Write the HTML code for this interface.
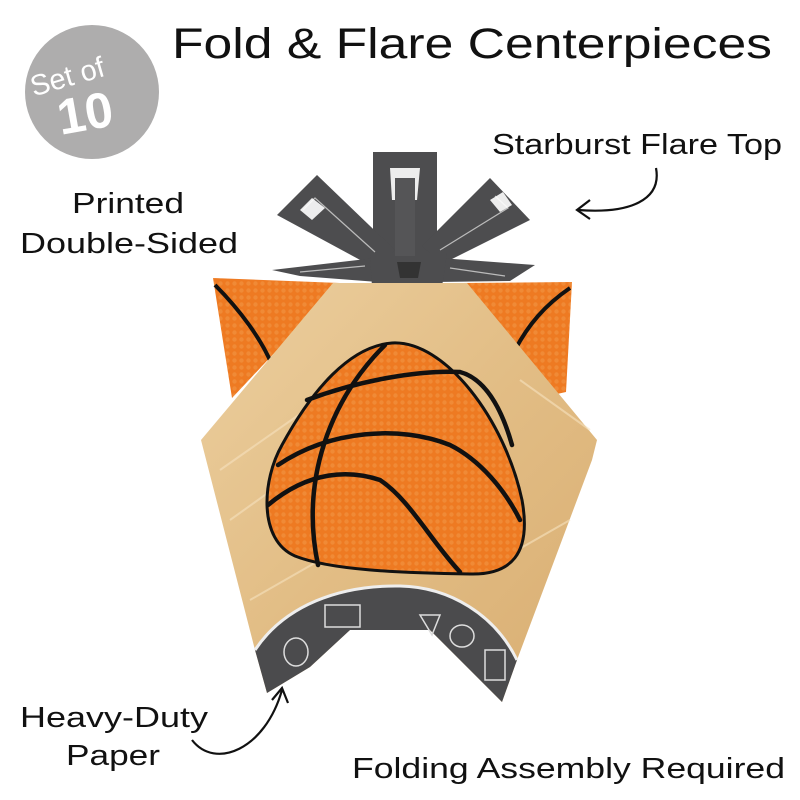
<!DOCTYPE html>
<html><head><meta charset="utf-8"><style>
html,body{margin:0;padding:0;background:#fff;width:800px;height:800px;overflow:hidden}
svg{display:block}
text{font-family:"Liberation Sans",sans-serif;fill:#111}
</style></head><body>
<svg width="800" height="800" viewBox="0 0 800 800" xmlns="http://www.w3.org/2000/svg">
<defs>
<pattern id="dots" width="7" height="7" patternUnits="userSpaceOnUse">
<rect width="7" height="7" fill="#ee7a22"/><circle cx="3.5" cy="3.5" r="2.2" fill="#f08a36"/>
</pattern>
<linearGradient id="wood" x1="0" y1="0" x2="1" y2="1">
<stop offset="0" stop-color="#eccf9f"/><stop offset="0.5" stop-color="#e2bd85"/><stop offset="1" stop-color="#d9ae72"/>
</linearGradient>
</defs>

<!-- badge -->
<circle cx="92" cy="92" r="67" fill="#aeadad"/>
<text x="70" y="86" font-size="29" transform="rotate(-16 70 86)" text-anchor="middle" style="fill:#fff">Set of</text>
<text x="88" y="130" font-size="50" font-weight="bold" transform="rotate(-10 88 130)" text-anchor="middle" style="fill:#fff">10</text>

<!-- title -->
<text x="172" y="58" font-size="43" textLength="600" lengthAdjust="spacingAndGlyphs">Fold &amp; Flare Centerpieces</text>
<text x="492" y="154" font-size="29" textLength="290" lengthAdjust="spacingAndGlyphs">Starburst Flare Top</text>
<text x="128" y="213" font-size="29" text-anchor="middle" textLength="112" lengthAdjust="spacingAndGlyphs">Printed</text>
<text x="20" y="253" font-size="29" textLength="218" lengthAdjust="spacingAndGlyphs">Double-Sided</text>
<text x="20" y="727" font-size="29" textLength="188" lengthAdjust="spacingAndGlyphs">Heavy-Duty</text>
<text x="113" y="765" font-size="29" text-anchor="middle" textLength="94" lengthAdjust="spacingAndGlyphs">Paper</text>
<text x="352" y="778" font-size="29" textLength="433" lengthAdjust="spacingAndGlyphs">Folding Assembly Required</text>

<!-- arrows -->
<path d="M656 168 C662 200 630 214 578 210" fill="none" stroke="#111" stroke-width="2.2"/>
<path d="M590 200 L577 210 L590 219" fill="none" stroke="#111" stroke-width="2.2"/>
<path d="M192 740 C215 770 265 750 282 690" fill="none" stroke="#111" stroke-width="2.2"/>
<path d="M272 700 L282 688 L288 703" fill="none" stroke="#111" stroke-width="2.2"/>

<!-- back orange panels -->
<path d="M213 278 L340 283 L232 398 Z" fill="url(#dots)"/>
<path d="M215 285 C240 310 262 340 272 365" stroke="#111" stroke-width="4" fill="none"/>
<path d="M462 283 L572 282 L566 392 L530 400 Z" fill="url(#dots)"/>
<path d="M570 288 C545 305 528 325 515 350" stroke="#111" stroke-width="4" fill="none"/>

<!-- starburst -->
<g fill="#4d4d4f">
<rect x="373" y="152" width="64" height="105"/>
<path d="M277 215 L317 175 L395 250 L375 268 Z"/>
<path d="M490 178 L530 220 L442 264 L422 246 Z"/>
<path d="M272 270 L375 258 L378 282 L300 276 Z"/>
<path d="M535 265 L440 258 L435 282 L510 281 Z"/>
<path d="M370 253 L447 253 L442 287 L372 287 Z"/>
<rect x="393" y="280" width="34" height="12"/>
</g>
<g fill="none" stroke="#bbb" stroke-width="1.2">
<path d="M303 210 L315 198 L375 252"/>
<path d="M495 196 L508 208 L440 250"/>
<path d="M300 272 L365 266"/>
<path d="M505 276 L450 268"/>
</g>
<g fill="#fff" opacity="0.9">
<path d="M390 168 L420 168 L417 200 L392 200 Z"/>
<path d="M300 210 L312 198 L325 208 L312 220 Z"/>
<path d="M490 200 L503 192 L512 205 L500 212 Z"/>
</g>
<rect x="395" y="178" width="20" height="78" fill="#555557"/>
<path d="M397 262 L421 262 L418 278 L400 278 Z" fill="#333"/>

<!-- wood panel -->
<path d="M333 283 L467 283 L597 440 L592 460 L517 660 L502 702 L430 630 L350 630 L310 667 L267 693 L255 650 L201 440 Z" fill="url(#wood)"/>
<g stroke="#f6e2bf" stroke-width="2" opacity="0.6" fill="none">
<path d="M220 470 L320 400"/><path d="M230 520 L300 470"/><path d="M520 380 L590 430"/><path d="M500 560 L570 520"/><path d="M250 600 L320 560"/>
</g>
<!-- gray band -->
<path d="M255 650 C285 605 340 585 400 586 C450 587 495 615 517 660 L502 702 L430 630 L350 630 L310 667 L267 693 Z" fill="#4b4b4d"/>
<path d="M255 650 C285 605 340 585 400 586 C450 587 495 615 517 660" fill="none" stroke="#eee" stroke-width="3"/>
<g fill="none" stroke="#ddd" stroke-width="1.5">
<ellipse cx="296" cy="652" rx="12" ry="14"/><ellipse cx="462" cy="636" rx="12" ry="11"/>
<rect x="325" y="605" width="35" height="22"/><path d="M420 615 L440 615 L432 635 Z"/><rect x="485" y="650" width="20" height="30"/>
</g>

<!-- basketball -->
<path d="M392 343 C445 340 505 420 522 500 C532 555 510 575 470 574 C400 573 330 570 295 556 C258 540 262 480 282 445 C312 390 350 346 392 343 Z" fill="url(#dots)" stroke="#111" stroke-width="3"/>
<g stroke="#111" stroke-width="4.5" fill="none" stroke-linecap="round">
<path d="M385 345 C330 400 300 480 318 565"/>
<path d="M307 400 C360 380 420 370 460 372 C490 380 505 420 512 445"/>
<path d="M278 465 C330 430 400 425 450 445 C480 460 505 490 520 520"/>
<path d="M268 505 C310 470 350 470 380 480 C410 500 430 540 460 572"/>
</g>
</svg>
</body></html>
